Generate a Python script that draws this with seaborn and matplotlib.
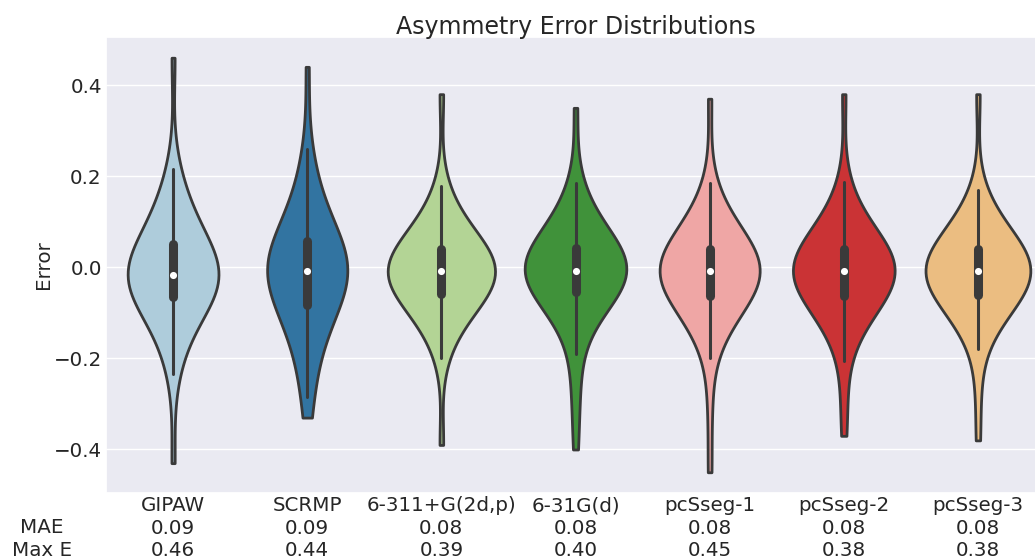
import numpy as np
import pandas as pd
import matplotlib
matplotlib.use("Agg")
import matplotlib.pyplot as plt
import seaborn as sns

# Methods / basis sets compared
methods = ["GIPAW", "SCRMP", "6-311+G(2d,p)", "6-31G(d)", "pcSseg-1", "pcSseg-2", "pcSseg-3"]
mae = [0.09, 0.09, 0.08, 0.08, 0.08, 0.08, 0.08]
max_err = [0.46, 0.44, 0.39, 0.40, 0.45, 0.38, 0.38]

# Asymmetry errors per method (sorted)
err_gipaw = [-0.43, -0.235, -0.20, -0.168, -0.146, -0.128, -0.114, -0.102, -0.092, -0.084, -0.077, -0.071,
             -0.064, -0.057, -0.051, -0.045, -0.040, -0.035, -0.031, -0.027, -0.024, -0.021, -0.019, -0.017,
             -0.015, -0.012, -0.008, -0.004, 0.001, 0.006, 0.012, 0.018, 0.025, 0.032, 0.040, 0.048,
             0.057, 0.066, 0.075, 0.085, 0.096, 0.108, 0.121, 0.137, 0.158, 0.185, 0.215, 0.46]
err_scrmp = [-0.33, -0.285, -0.25, -0.21, -0.183, -0.162, -0.145, -0.131, -0.119, -0.108, -0.098, -0.089,
             -0.080, -0.070, -0.061, -0.053, -0.046, -0.039, -0.033, -0.027, -0.022, -0.017, -0.013, -0.009,
             -0.006, -0.002, 0.002, 0.006, 0.011, 0.016, 0.021, 0.027, 0.033, 0.040, 0.047, 0.055,
             0.064, 0.073, 0.083, 0.094, 0.106, 0.120, 0.136, 0.155, 0.180, 0.215, 0.26, 0.44]
err_6311 = [-0.39, -0.20, -0.162, -0.139, -0.123, -0.110, -0.100, -0.091, -0.083, -0.076, -0.069, -0.063,
            -0.058, -0.053, -0.048, -0.043, -0.038, -0.034, -0.030, -0.026, -0.022, -0.019, -0.015, -0.011,
            -0.007, -0.003, 0.001, 0.004, 0.008, 0.012, 0.016, 0.020, 0.025, 0.029, 0.034, 0.039,
            0.044, 0.050, 0.057, 0.064, 0.072, 0.081, 0.092, 0.105, 0.121, 0.144, 0.179, 0.38]
err_631 = [-0.40, -0.31, -0.25, -0.19, -0.145, -0.12, -0.104, -0.092, -0.082, -0.074, -0.066, -0.059,
           -0.053, -0.047, -0.042, -0.037, -0.032, -0.028, -0.024, -0.021, -0.018, -0.015, -0.012, -0.009,
           -0.007, -0.003, 0.001, 0.005, 0.009, 0.013, 0.017, 0.021, 0.026, 0.031, 0.036, 0.041,
           0.047, 0.053, 0.060, 0.067, 0.075, 0.084, 0.095, 0.108, 0.13, 0.16, 0.185, 0.35]
err_pcs1 = [-0.45, -0.31, -0.20, -0.158, -0.136, -0.12, -0.108, -0.098, -0.089, -0.081, -0.074, -0.067,
            -0.061, -0.055, -0.05, -0.045, -0.04, -0.035, -0.031, -0.027, -0.023, -0.019, -0.015, -0.011,
            -0.007, -0.003, 0.001, 0.004, 0.008, 0.012, 0.016, 0.02, 0.025, 0.029, 0.034, 0.039,
            0.044, 0.05, 0.057, 0.064, 0.072, 0.081, 0.092, 0.105, 0.121, 0.144, 0.185, 0.37]
err_pcs2 = [-0.37, -0.29, -0.205, -0.16, -0.138, -0.122, -0.11, -0.1, -0.091, -0.083, -0.075, -0.068,
            -0.062, -0.056, -0.051, -0.046, -0.041, -0.036, -0.032, -0.027, -0.023, -0.019, -0.015, -0.011,
            -0.007, -0.003, 0.001, 0.004, 0.008, 0.012, 0.016, 0.02, 0.025, 0.029, 0.034, 0.039,
            0.044, 0.05, 0.057, 0.064, 0.072, 0.081, 0.092, 0.105, 0.121, 0.145, 0.188, 0.38]
err_pcs3 = [-0.38, -0.27, -0.18, -0.15, -0.13, -0.115, -0.104, -0.095, -0.087, -0.079, -0.072, -0.066,
            -0.06, -0.055, -0.05, -0.045, -0.04, -0.035, -0.031, -0.027, -0.023, -0.019, -0.015, -0.011,
            -0.007, -0.003, 0.001, 0.004, 0.008, 0.012, 0.016, 0.02, 0.025, 0.029, 0.034, 0.039,
            0.044, 0.05, 0.056, 0.063, 0.071, 0.08, 0.09, 0.102, 0.117, 0.138, 0.17, 0.38]

errors = [err_gipaw, err_scrmp, err_6311, err_631, err_pcs1, err_pcs2, err_pcs3]

df = pd.DataFrame({
    "method": np.repeat(methods, [len(e) for e in errors]),
    "error": np.concatenate(errors),
})

sns.set_theme(style="darkgrid")
plt.rcParams["font.family"] = ["DejaVu Sans"]

fig = plt.figure(figsize=(10.35, 5.59), dpi=100)
ax = fig.add_axes([106 / 1035, 1 - 493 / 559, 939 / 1035, 456 / 559])

sns.violinplot(
    data=df, x="method", y="error", hue="method", order=methods, hue_order=methods,
    palette="Paired", saturation=0.75, cut=0, inner="box", bw_adjust=1.25,
    density_norm="area", common_norm=True,
    linewidth=2.0, linecolor="#3a3a3a", legend=False, ax=ax,
    inner_kws=dict(box_width=6.5, whis_width=2.2, marker="o", solid_capstyle="round"),
)

# smaller white median dots
for line in ax.lines:
    if line.get_marker() == "o":
        line.set_markersize(3.8)

ax.set_title("Asymmetry Error Distributions", fontsize=17, pad=2)
ax.set_xlabel("")
ax.set_ylabel("Error", fontsize=14.3, labelpad=0.5)
ax.set_xticks(range(len(methods)))
ax.set_xticklabels([f"{m}\n{a:.2f}\n{e:.2f}" for m, a, e in zip(methods, mae, max_err)],
                   linespacing=1.22)
ax.tick_params(axis="both", labelsize=14.3, length=0)
ax.tick_params(axis="x", pad=2.5)
ax.tick_params(axis="y", pad=3)

fig.text(42 / 1035, 1 - 533 / 559, "MAE", ha="center", va="baseline", fontsize=14.3)
fig.text(42 / 1035, 1 - 556 / 559, "Max E", ha="center", va="baseline", fontsize=14.3)

fig.savefig("out.png", dpi=100)
